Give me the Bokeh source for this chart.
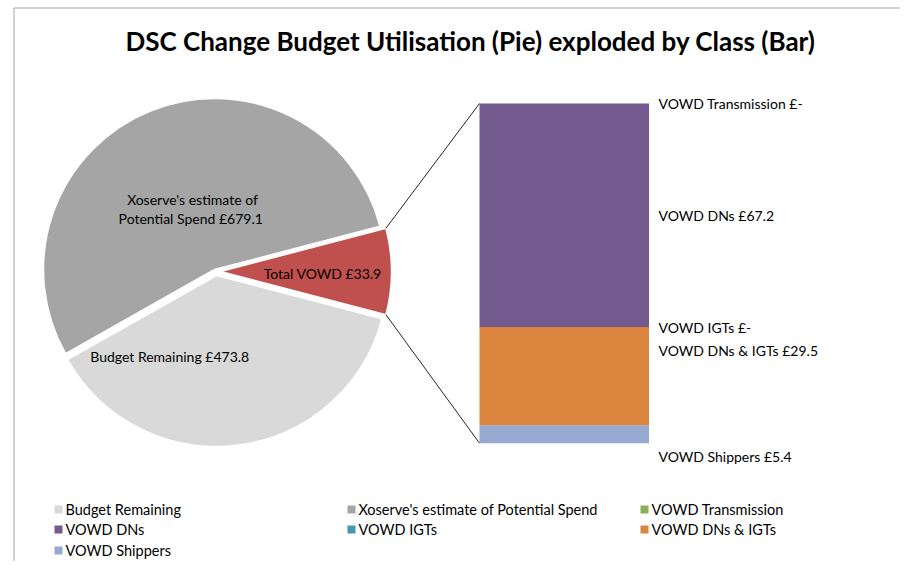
import math
from bokeh.plotting import figure
from bokeh.models import Range1d, ColumnDataSource
from bokeh.core.properties import value
from bokeh.embed import file_html
from bokeh.resources import INLINE

# ---------------- data ----------------
title_text = "DSC Change Budget Utilisation (Pie) exploded by Class (Bar)"
pie_names = ["Budget Remaining", "Xoserve's estimate of Potential Spend", "Total VOWD"]
pie_values = [473.8, 679.1]          # Budget Remaining, Xoserve's estimate
vowd_label_value = 33.9              # value printed on the Total VOWD slice
bar_names = ["VOWD Shippers", "VOWD DNs & IGTs", "VOWD IGTs", "VOWD DNs", "VOWD Transmission"]
bar_values = [5.4, 29.5, 0.0, 67.2, 0.0]
legend_names = ["Budget Remaining", "Xoserve's estimate of Potential Spend", "VOWD Transmission",
                "VOWD DNs", "VOWD IGTs", "VOWD DNs & IGTs", "VOWD Shippers"]

colors = {
    "Budget Remaining": "#D9D9D9",
    "Xoserve's estimate of Potential Spend": "#A5A5A5",
    "Total VOWD": "#C0504D",
    "VOWD Transmission": "#8EB05A",
    "VOWD DNs": "#735A8E",
    "VOWD IGTs": "#4198AF",
    "VOWD DNs & IGTs": "#DB843E",
    "VOWD Shippers": "#95A9D1",
}

FONT = "Lato"
W, H = 900, 561


def Y(py):
    # picture pixel row -> data y
    return H - py


p = figure(width=W, height=H, x_range=Range1d(0, W), y_range=Range1d(0, H),
           output_backend="svg", toolbar_location=None, min_border=0,
           x_axis_type=None, y_axis_type=None)
p.grid.visible = False
p.outline_line_color = None
p.background_fill_color = "white"
p.border_fill_color = "white"

# chart area border (left and top)
p.line(x=[13.5, 13.5, W], y=[Y(H + 5), Y(7.5), Y(7.5)], line_color="#A6A6A6", line_width=1)

# ---------------- pie ----------------
vowd_slice = sum(bar_values)
total = pie_values[0] + pie_values[1] + vowd_slice
half = vowd_slice / total * 180.0
xo_end = half + pie_values[1] / total * 360.0
R = 171
centers = {"Budget Remaining": (216, Y(275)),
           "Xoserve's estimate of Potential Spend": (214, Y(269)),
           "Total VOWD": (220, Y(271))}
starts = [xo_end, half, -half]
ends = [360 - half, xo_end, half]
src = ColumnDataSource(dict(
    x=[centers[n][0] for n in pie_names], y=[centers[n][1] for n in pie_names],
    start=[math.radians(a) for a in starts], end=[math.radians(a) for a in ends],
    color=[colors[n] for n in pie_names]))
p.wedge(x="x", y="y", radius=R, start_angle="start", end_angle="end",
        fill_color="color", line_color="white", line_width=1.5, source=src)

# pie labels
pie_label_text = ["Xoserve's estimate of", "Potential Spend  £%.1f" % pie_values[1],
                  "Budget Remaining  £%.1f" % pie_values[0],
                  "Total VOWD  £%.1f" % vowd_label_value]
pie_label_x = [192, 192, 171, 324]
pie_label_y = [Y(199), Y(217.5), Y(356), Y(273)]
p.text(x=pie_label_x, y=pie_label_y, text=pie_label_text, text_font=value(FONT),
       text_font_size="14px", text_align="center", text_baseline="middle", text_color="#000000")

# ---------------- bar (own scale) ----------------
bar_bottom_px, bar_top_px = 442.7, 103.0
k = (bar_bottom_px - bar_top_px) / vowd_slice
base = Y(bar_bottom_px)
p.extra_y_ranges = {"bar": Range1d(start=-base / k, end=(H - base) / k)}
bar_left, bar_right = 479, 648.5
bottoms, tops = [], []
cum = 0.0
for v in bar_values:
    bottoms.append(cum)
    tops.append(cum + v)
    cum += v
p.vbar(x=(bar_left + bar_right) / 2, width=bar_right - bar_left, bottom=bottoms, top=tops,
       fill_color=[colors[n] for n in bar_names], line_color=None, y_range_name="bar")

# connector lines from the VOWD slice to the bar
cxv, cyv = centers["Total VOWD"]
ux, uy = cxv + R * math.cos(math.radians(half)), cyv + R * math.sin(math.radians(half))
lx, ly = cxv + R * math.cos(math.radians(-half)), cyv + R * math.sin(math.radians(-half))
p.segment(x0=[ux, lx], y0=[uy, ly], x1=[bar_left, bar_left],
          y1=[base + vowd_slice * k, base], line_color="#262626", line_width=1)

# bar labels
bar_label_text = ["%s  £%s" % (n, ("%.1f" % v) if v else "-") for n, v in zip(bar_names, bar_values)]
bar_mid = [(b + t) / 2 for b, t in zip(bottoms, tops)]
bar_label_dy = [22, -26, 0, 0, 0]
p.text(x=658, y=bar_mid, text=bar_label_text, y_offset=bar_label_dy, y_range_name="bar",
       text_font=value(FONT), text_font_size="14px", text_align="left",
       text_baseline="middle", text_color="#000000")

# ---------------- title ----------------
p.text(x=[470], y=[Y(40)], text=[title_text], text_font=value(FONT), text_font_size="26px",
       text_font_style="bold", text_align="center", text_baseline="middle", text_color="#000000")

# ---------------- legend ----------------
col_x = [58, 351, 644]
row_y = [509, 529, 550]
lg_x = [col_x[i % 3] for i in range(len(legend_names))]
lg_y = [Y(row_y[i // 3]) for i in range(len(legend_names))]
p.scatter(x=lg_x, y=lg_y, marker="square", size=8, fill_color=[colors[n] for n in legend_names],
          line_color=None)
p.text(x=[x + 7 for x in lg_x], y=lg_y, text=legend_names, text_font=value(FONT),
       text_font_size="14.5px", text_align="left", text_baseline="middle", text_color="#000000")

open("out.html", "w").write(file_html(p, INLINE))
